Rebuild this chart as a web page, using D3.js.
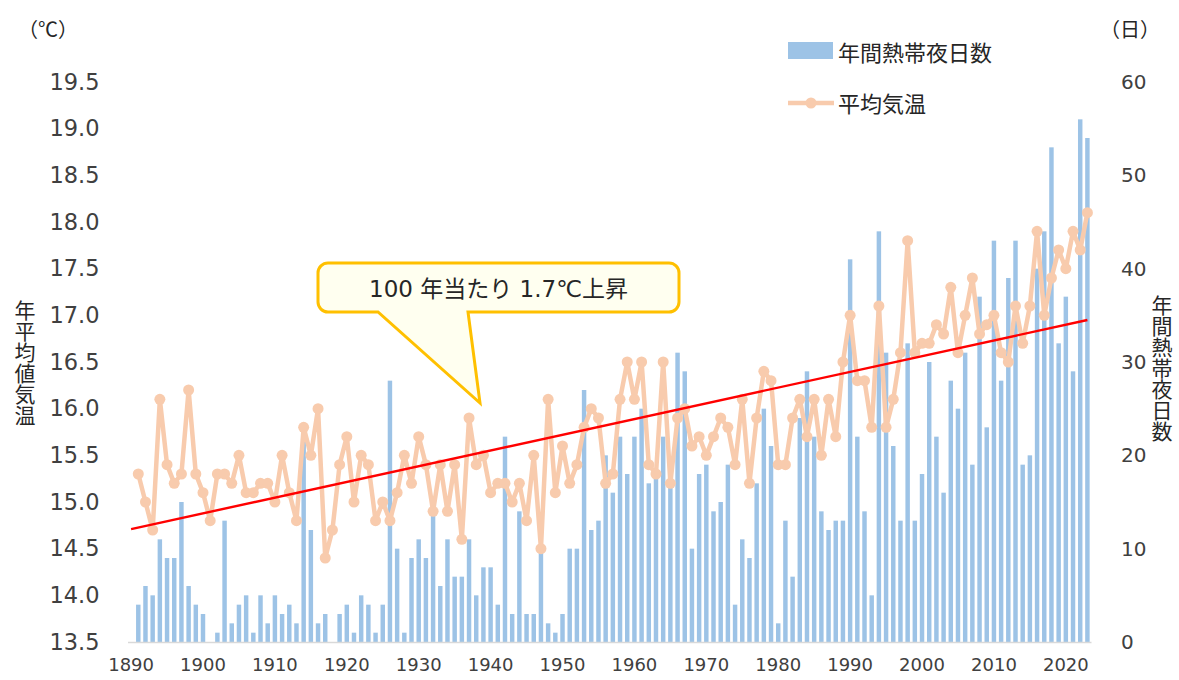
<!DOCTYPE html>
<html>
<head>
<meta charset="utf-8">
<script src="https://cdn.jsdelivr.net/npm/d3@7"></script>
<style>
  body { margin: 0; background: #fff; }
  svg { display: block; }
  .tick text { font-family: "DejaVu Sans", sans-serif; fill: #404040; }
  .jp { font-family: "Noto Sans CJK JP", sans-serif; fill: #262626; }
</style>
</head>
<body>
<svg id="chart"></svg>
<script>
// annual mean temperature (deg C), 1891 -> 2023
const temps = [
  15.3, 15.0, 14.7, 16.1, 15.4, 15.2, 15.3, 16.2, 15.3, 15.1,
  14.8, 15.3, 15.3, 15.2, 15.5, 15.1, 15.1, 15.2, 15.2, 15.0,
  15.5, 15.1, 14.8, 15.8, 15.5, 16.0, 14.4, 14.7, 15.4, 15.7,
  15.0, 15.5, 15.4, 14.8, 15.0, 14.8, 15.1, 15.5, 15.2, 15.7,
  15.4, 14.9, 15.4, 14.9, 15.4, 14.6, 15.9, 15.4, 15.5, 15.1,
  15.2, 15.2, 15.0, 15.2, 14.8, 15.5, 14.5, 16.1, 15.1, 15.6,
  15.2, 15.4, 15.8, 16.0, 15.9, 15.2, 15.3, 16.1, 16.5, 16.1,
  16.5, 15.4, 15.3, 16.5, 15.2, 15.9, 16.0, 15.6, 15.7, 15.5,
  15.7, 15.9, 15.8, 15.4, 16.1, 15.2, 15.9, 16.4, 16.3, 15.4,
  15.4, 15.9, 16.1, 15.7, 16.1, 15.5, 16.1, 15.7, 16.5, 17.0,
  16.3, 16.3, 15.8, 17.1, 15.8, 16.1, 16.6, 17.8, 16.6, 16.7,
  16.7, 16.9, 16.8, 17.3, 16.6, 17.0, 17.4, 16.8, 16.9, 17.0,
  16.6, 16.5, 17.1, 16.7, 17.1, 17.9, 17.0, 17.4, 17.7, 17.5,
  17.9, 17.7, 18.1
];

// tropical nights per year (days), 1891 -> 2023
const nights = [
  4, 6, 5, 11, 9, 9, 15, 6, 4, 3,
  0, 1, 13, 2, 4, 5, 1, 5, 2, 5,
  3, 4, 2, 23, 12, 2, 3, 0, 3, 4,
  1, 5, 4, 1, 4, 28, 10, 1, 9, 11,
  9, 14, 6, 11, 7, 7, 11, 5, 8, 8,
  4, 22, 3, 14, 3, 3, 10, 2, 1, 3,
  10, 10, 27, 12, 13, 20, 16, 22, 18, 22,
  25, 17, 18, 22, 17, 31, 29, 10, 18, 19,
  14, 15, 19, 4, 11, 9, 17, 25, 21, 2,
  13, 7, 24, 29, 22, 14, 12, 13, 13, 41,
  22, 14, 5, 44, 31, 21, 13, 32, 13, 18,
  30, 22, 16, 28, 25, 31, 19, 37, 23, 43,
  28, 39, 43, 19, 20, 40, 44, 53, 32, 37,
  29, 56, 54
];

const firstYear = 1891;
const axisYears = d3.range(1890, 2024);           // categories on the x axis
const decadeTicks = [1890, 1900, 1910, 1920, 1930, 1940, 1950, 1960, 1970, 1980, 1990, 2000, 2010, 2020];
const tempTicks = [13.5, 14.0, 14.5, 15.0, 15.5, 16.0, 16.5, 17.0, 17.5, 18.0, 18.5, 19.0, 19.5];
const dayTicks = [0, 10, 20, 30, 40, 50, 60];

// trend: 1.7 deg per 100 years
const trendYears = [1890, 2023];
const trendTemps = [14.71, 16.95];

const width = 1179;
const height = 680;
const plot = { left: 127.5, right: 1091, top: 82, bottom: 642 };

const barColor = "#9DC3E6";
const lineColor = "#F8CBAD";

const svg = d3.select("#chart").attr("width", width).attr("height", height);

const data = temps.map((t, i) => ({ year: firstYear + i, temp: t, nights: nights[i] }));

const x = d3.scaleBand().domain(axisYears).range([plot.left, plot.right]).padding(0);
const cx = (yr) => x(yr) + x.bandwidth() / 2;
const yT = d3.scaleLinear().domain([13.5, 19.5]).range([plot.bottom, plot.top]);
const yD = d3.scaleLinear().domain([0, 60]).range([plot.bottom, plot.top]);

const barW = x.bandwidth() * 0.62;

// bars
svg.append("g")
  .selectAll("rect")
  .data(data)
  .join("rect")
  .attr("x", (d) => cx(d.year) - barW / 2)
  .attr("y", (d) => yD(d.nights))
  .attr("width", barW)
  .attr("height", (d) => yD(0) - yD(d.nights))
  .attr("fill", barColor);

// x axis
const xAxisG = svg.append("g")
  .attr("transform", `translate(0,${plot.bottom})`)
  .call(d3.axisBottom(x).tickValues(decadeTicks).tickSize(0).tickSizeOuter(0).tickPadding(16));
xAxisG.select(".domain").attr("stroke", "#D9D9D9").attr("stroke-width", 1.5);
xAxisG.selectAll(".tick text").style("font-size", "18px");

// left axis
const yAxisL = svg.append("g")
  .attr("transform", `translate(${plot.left},0)`)
  .call(d3.axisLeft(yT).tickValues(tempTicks).tickFormat(d3.format(".1f")).tickSize(0).tickPadding(28));
yAxisL.select(".domain").remove();
yAxisL.selectAll(".tick text").style("font-size", "22.5px");

// right axis
const yAxisR = svg.append("g")
  .attr("transform", `translate(${plot.right},0)`)
  .call(d3.axisRight(yD).tickValues(dayTicks).tickSize(0).tickPadding(30));
yAxisR.select(".domain").remove();
yAxisR.selectAll(".tick text").style("font-size", "20px");

// temperature line
const line = d3.line().x((d) => cx(d.year)).y((d) => yT(d.temp));
svg.append("path")
  .datum(data)
  .attr("d", line)
  .attr("fill", "none")
  .attr("stroke", lineColor)
  .attr("stroke-width", 4.5)
  .attr("stroke-linejoin", "round");

svg.append("g")
  .selectAll("circle")
  .data(data)
  .join("circle")
  .attr("cx", (d) => cx(d.year))
  .attr("cy", (d) => yT(d.temp))
  .attr("r", 5.5)
  .attr("fill", lineColor);

// trend line
svg.append("line")
  .attr("x1", cx(trendYears[0]))
  .attr("y1", yT(trendTemps[0]))
  .attr("x2", cx(trendYears[1]))
  .attr("y2", yT(trendTemps[1]))
  .attr("stroke", "#FF0000")
  .attr("stroke-width", 2.4);

// unit labels
svg.append("text").attr("class", "jp").attr("x", 48).attr("y", 37)
  .attr("text-anchor", "middle").style("font-size", "20px").text("（℃）");
svg.append("text").attr("class", "jp").attr("x", 1130).attr("y", 37)
  .attr("text-anchor", "middle").style("font-size", "20px").text("（日）");

// vertical axis titles
svg.append("text").attr("class", "jp")
  .attr("x", 25).attr("y", 363)
  .attr("text-anchor", "middle")
  .style("writing-mode", "vertical-rl")
  .style("font-size", "21px")
  .text("年平均値気温");

svg.append("text").attr("class", "jp")
  .attr("x", 1162).attr("y", 368)
  .attr("text-anchor", "middle")
  .style("writing-mode", "vertical-rl")
  .style("font-size", "21px")
  .text("年間熱帯夜日数");

// legend
const legend = svg.append("g");
legend.append("rect").attr("x", 788).attr("y", 42).attr("width", 45).attr("height", 17).attr("fill", barColor);
legend.append("text").attr("class", "jp").attr("x", 838).attr("y", 51)
  .attr("dominant-baseline", "central").style("font-size", "22px").text("年間熱帯夜日数");
legend.append("line").attr("x1", 788).attr("x2", 834).attr("y1", 103).attr("y2", 103)
  .attr("stroke", lineColor).attr("stroke-width", 4.5);
legend.append("circle").attr("cx", 811).attr("cy", 103).attr("r", 5.5).attr("fill", lineColor);
legend.append("text").attr("class", "jp").attr("x", 838).attr("y", 102)
  .attr("dominant-baseline", "central").style("font-size", "22px").text("平均気温");

// callout
const bx0 = 318, bx1 = 679, by0 = 263, by1 = 312, r = 10;
const tail = { left: 378, right: 468, tipX: 480, tipY: 403 };
const callout = d3.path();
callout.moveTo(bx0 + r, by0);
callout.lineTo(bx1 - r, by0);
callout.arcTo(bx1, by0, bx1, by0 + r, r);
callout.lineTo(bx1, by1 - r);
callout.arcTo(bx1, by1, bx1 - r, by1, r);
callout.lineTo(tail.right, by1);
callout.lineTo(tail.tipX, tail.tipY);
callout.lineTo(tail.left, by1);
callout.lineTo(bx0 + r, by1);
callout.arcTo(bx0, by1, bx0, by1 - r, r);
callout.lineTo(bx0, by0 + r);
callout.arcTo(bx0, by0, bx0 + r, by0, r);
callout.closePath();
svg.append("path").attr("d", callout.toString())
  .attr("fill", "#FFFFF0").attr("stroke", "#FFC000").attr("stroke-width", 3);

svg.append("text")
  .attr("x", (bx0 + bx1) / 2).attr("y", 289)
  .attr("text-anchor", "middle").attr("dominant-baseline", "central")
  .style("font-family", "'DejaVu Sans', 'Noto Sans CJK JP', sans-serif")
  .style("font-size", "23px").style("fill", "#262626")
  .text("100 年当たり 1.7℃上昇");
</script>
</body>
</html>
